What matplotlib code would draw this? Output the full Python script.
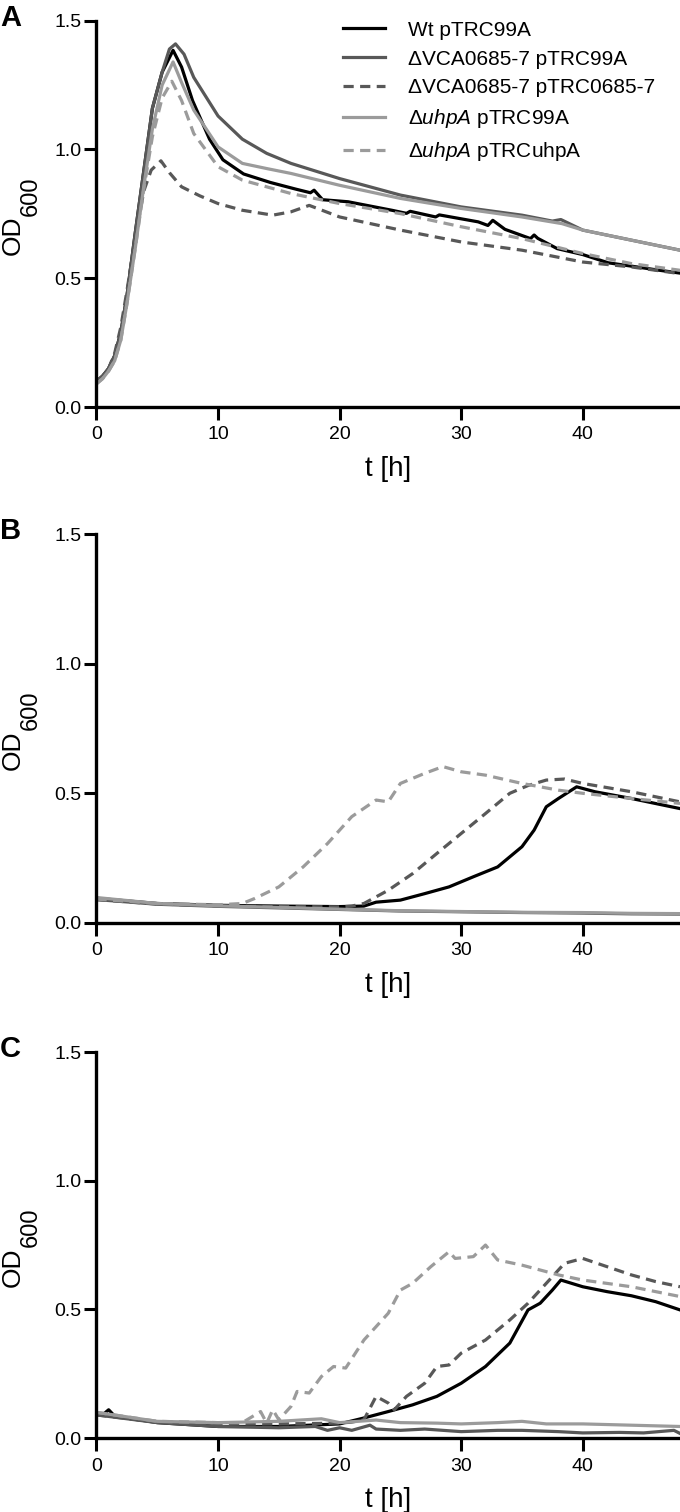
import matplotlib
matplotlib.use("Agg")
import matplotlib.pyplot as plt

plt.rcParams['font.family'] = ['Liberation Sans', 'DejaVu Sans']
plt.rcParams['mathtext.fontset'] = 'custom'
plt.rcParams['mathtext.rm'] = 'Liberation Sans'
plt.rcParams['mathtext.it'] = 'Liberation Sans:italic'

# ---- series labels / styles ----
labels = ['Wt pTRC99A',
          'ΔVCA0685-7 pTRC99A',
          'ΔVCA0685-7 pTRC0685-7',
          'Δ$\\mathit{uhpA}$ pTRC99A',
          'Δ$\\mathit{uhpA}$ pTRCuhpA']
colors = ['#000000', '#585858', '#585858', '#9b9b9b', '#9b9b9b']
dashed = [False, False, True, False, True]

x_ticks = [0, 10, 20, 30, 40]
y_ticks = [0.0, 0.5, 1.0, 1.5]
y_ticklabels = ['0.0', '0.5', '1.0', '1.5']

# ---- panel A ----
a_t_wt = [0, 0.5, 1, 1.5, 2, 2.5, 3.2, 3.9, 4.6, 5.4, 6.3, 7, 7.9, 9.3, 10.4, 12.1, 14.3, 16.4,
          17.6, 17.9, 18.6, 20.7, 24.3, 25.5, 25.8, 27.9, 28.2, 31.4, 32.2, 32.6, 33.6, 35.7,
          36.0, 36.3, 37.9, 40, 42.1, 44.3, 46, 48]
a_wt = [0.10, 0.12, 0.15, 0.20, 0.29, 0.43, 0.68, 0.92, 1.16, 1.30, 1.385, 1.32, 1.19, 1.04, 0.96,
        0.905, 0.872, 0.846, 0.832, 0.842, 0.805, 0.797, 0.764, 0.752, 0.760, 0.738, 0.746, 0.719,
        0.705, 0.725, 0.690, 0.654, 0.668, 0.655, 0.615, 0.592, 0.560, 0.545, 0.533, 0.520]
a_t_vca = [0, 0.5, 1, 1.5, 2, 2.5, 3.2, 3.9, 4.6, 5.4, 6.0, 6.5, 7.2, 8, 10, 12, 14, 16, 20, 25, 30,
           35, 37.5, 38.2, 40, 44, 48]
a_vca = [0.10, 0.12, 0.15, 0.20, 0.29, 0.43, 0.68, 0.92, 1.16, 1.30, 1.39, 1.41, 1.37, 1.28, 1.13,
         1.04, 0.985, 0.946, 0.887, 0.823, 0.777, 0.745, 0.722, 0.728, 0.687, 0.648, 0.609]
a_t_vcac = [0, 0.5, 1, 1.5, 2, 2.5, 3.2, 3.9, 4.5, 5.3, 6, 7, 8.5, 10, 12, 14.5, 16, 17.5, 18.5, 20,
            25, 30, 35, 40, 44, 48]
a_vcac = [0.10, 0.12, 0.15, 0.21, 0.31, 0.45, 0.66, 0.84, 0.92, 0.956, 0.91, 0.855, 0.82, 0.79,
          0.764, 0.745, 0.758, 0.783, 0.765, 0.738, 0.687, 0.641, 0.609, 0.563, 0.544, 0.518]
a_t_uhp = [0, 0.5, 1, 1.5, 2, 2.5, 3.2, 3.9, 4.6, 5.4, 6.3, 7, 8, 10, 12, 14, 16, 20, 25, 30, 35,
           38.3, 40, 44, 48]
a_uhp = [0.09, 0.11, 0.14, 0.18, 0.26, 0.40, 0.62, 0.86, 1.08, 1.25, 1.34, 1.26, 1.153, 1.01, 0.946,
         0.926, 0.907, 0.861, 0.81, 0.771, 0.738, 0.712, 0.687, 0.648, 0.609]
a_t_uhpc = [0, 0.5, 1, 1.5, 2, 2.5, 3.2, 3.9, 4.6, 5.4, 6.2, 7, 8, 10, 12, 14, 16, 20, 25, 30, 35,
            40, 44, 48]
a_uhpc = [0.09, 0.11, 0.14, 0.18, 0.26, 0.40, 0.62, 0.85, 1.05, 1.20, 1.265, 1.19, 1.062, 0.933,
          0.881, 0.855, 0.829, 0.79, 0.751, 0.70, 0.654, 0.596, 0.557, 0.531]

# ---- panel B ----
b_t_wt = [0, 5, 10, 15, 20, 22, 23, 25, 27, 29, 31, 33, 35, 36, 37, 38, 39.5, 41, 44, 48]
b_wt = [0.095, 0.075, 0.068, 0.065, 0.063, 0.065, 0.080, 0.088, 0.113, 0.139, 0.178, 0.216, 0.294,
        0.358, 0.448, 0.480, 0.525, 0.506, 0.480, 0.441]
b_t_vca = [0, 5, 10, 15, 20, 25, 30, 35, 40, 44, 48]
b_vca = [0.090, 0.072, 0.064, 0.058, 0.052, 0.046, 0.043, 0.040, 0.038, 0.035, 0.034]
b_t_vcac = [0, 5, 10, 15, 20, 21, 22, 24, 26, 28, 30, 32, 34, 35.5, 37, 38.5, 40, 44, 48]
b_vcac = [0.090, 0.073, 0.066, 0.063, 0.062, 0.065, 0.075, 0.126, 0.19, 0.268, 0.345, 0.422, 0.50,
          0.53, 0.551, 0.555, 0.538, 0.506, 0.467]
b_t_uhp = [0, 5, 10, 15, 20, 25, 30, 35, 40, 44, 48]
b_uhp = [0.098, 0.075, 0.066, 0.060, 0.053, 0.047, 0.044, 0.041, 0.040, 0.037, 0.036]
b_t_uhpc = [0, 5, 10, 12, 13, 15, 17, 19, 21, 23, 24, 25, 27, 28.5, 30, 32, 35, 38, 40, 44, 48]
b_uhpc = [0.092, 0.075, 0.070, 0.075, 0.094, 0.139, 0.216, 0.306, 0.41, 0.474, 0.467, 0.538,
          0.577, 0.603, 0.583, 0.57, 0.538, 0.512, 0.50, 0.48, 0.461]

# ---- panel C ----
c_t_wt = [0, 0.5, 1, 1.5, 5, 10, 15, 20, 22, 24, 26, 28, 30, 32, 34, 35.5, 36.5, 37.5, 38.2, 40,
          42, 44, 46, 48]
c_wt = [0.10, 0.09, 0.11, 0.085, 0.06, 0.045, 0.045, 0.055, 0.078, 0.103, 0.129, 0.162, 0.213,
        0.278, 0.369, 0.498, 0.524, 0.575, 0.614, 0.588, 0.569, 0.553, 0.530, 0.498]
c_t_vca = [0, 5, 10, 15, 18, 19, 20, 21, 22.5, 23, 25, 27, 30, 33, 35, 38, 40, 43, 45, 47.5, 48]
c_vca = [0.09, 0.06, 0.045, 0.040, 0.045, 0.030, 0.040, 0.030, 0.050, 0.035, 0.030, 0.035, 0.025,
         0.030, 0.030, 0.025, 0.020, 0.022, 0.020, 0.030, 0.018]
c_t_vcac = [0, 5, 10, 15, 20, 21, 22, 23, 24, 24.5, 25.5, 27, 28, 29, 30, 32, 34, 35.5, 37.5, 38.5,
            40, 42, 44, 46, 48]
c_vcac = [0.09, 0.062, 0.055, 0.055, 0.058, 0.062, 0.071, 0.162, 0.136, 0.11, 0.162, 0.213, 0.278,
          0.284, 0.33, 0.381, 0.459, 0.524, 0.627, 0.679, 0.698, 0.666, 0.634, 0.608, 0.588]
c_t_uhp = [0, 5, 10, 15, 18.5, 20, 23, 25, 28, 30, 33, 35, 37, 40, 44, 48]
c_uhp = [0.10, 0.065, 0.06, 0.065, 0.075, 0.06, 0.07, 0.06, 0.058, 0.055, 0.06, 0.065, 0.055, 0.055,
         0.05, 0.045]
c_t_uhpc = [0, 5, 10, 12, 13.5, 14, 14.5, 15, 16, 16.5, 17.5, 18.5, 19.5, 20.5, 22, 24, 25, 26,
            27.5, 29, 29.5, 31, 32, 33, 35, 38, 40, 44, 48]
c_uhpc = [0.10, 0.065, 0.06, 0.06, 0.103, 0.058, 0.11, 0.071, 0.123, 0.181, 0.175, 0.239, 0.278,
          0.272, 0.381, 0.485, 0.575, 0.601, 0.666, 0.724, 0.698, 0.705, 0.75, 0.692, 0.672, 0.634,
          0.614, 0.588, 0.55]

left = 0.1419
width = 1.0 - left
panels = [
    ('A', [left, 0.7308, width, 0.2555],
     [(a_t_wt, a_wt), (a_t_vca, a_vca), (a_t_vcac, a_vcac), (a_t_uhp, a_uhp), (a_t_uhpc, a_uhpc)]),
    ('B', [left, 0.3896, width, 0.2572],
     [(b_t_wt, b_wt), (b_t_vca, b_vca), (b_t_vcac, b_vcac), (b_t_uhp, b_uhp), (b_t_uhpc, b_uhpc)]),
    ('C', [left, 0.0489, width, 0.2553],
     [(c_t_wt, c_wt), (c_t_vca, c_vca), (c_t_vcac, c_vcac), (c_t_uhp, c_uhp), (c_t_uhpc, c_uhpc)]),
]

fig = plt.figure(figsize=(6.8, 15.12), dpi=100)

for letter, rect, series in panels:
    ax = fig.add_axes(rect)
    for i, (t, v) in enumerate(series):
        kw = dict(color=colors[i], lw=2.3, label=labels[i], solid_joinstyle='round')
        if dashed[i]:
            kw['dashes'] = (3.2, 2.0)
        ax.plot(t, v, **kw)
    ax.set_xlim(0, 48)
    ax.set_ylim(0, 1.5)
    ax.set_xticks(x_ticks)
    ax.set_yticks(y_ticks)
    ax.set_yticklabels(y_ticklabels)
    for s in ['top', 'right']:
        ax.spines[s].set_visible(False)
    for s in ['left', 'bottom']:
        ax.spines[s].set_linewidth(2.4)
    ax.tick_params(axis='y', length=9, width=2.2, pad=2, labelsize=14)
    ax.tick_params(axis='x', length=9, width=2.2, pad=5, labelsize=14)
    ax.set_xlabel('t [h]', fontsize=20, labelpad=9)

    # y label: "OD" with a large, lowered "600"
    ax.annotate('OD', xy=(0, 0.5), xycoords='axes fraction', xytext=(-77, -2),
                textcoords='offset pixels', rotation=90, rotation_mode='anchor',
                ha='right', va='baseline', fontsize=19)
    ax.annotate('600', xy=(0, 0.5), xycoords='axes fraction', xytext=(-60, -2),
                textcoords='offset pixels', rotation=90, rotation_mode='anchor',
                ha='left', va='baseline', fontsize=17)

    fig.text(0.0, rect[1] + rect[3] + 0.002, letter, fontsize=21, fontweight='bold',
             ha='left', va='center')
    if letter == 'A':
        ax.legend(loc='upper left', bbox_to_anchor=(0.4225, 1.0), frameon=False, fontsize=15,
                  handlelength=2.0, handletextpad=1.1, labelspacing=0.47, borderpad=0,
                  borderaxespad=0)

fig.savefig('out.png', dpi=100)
